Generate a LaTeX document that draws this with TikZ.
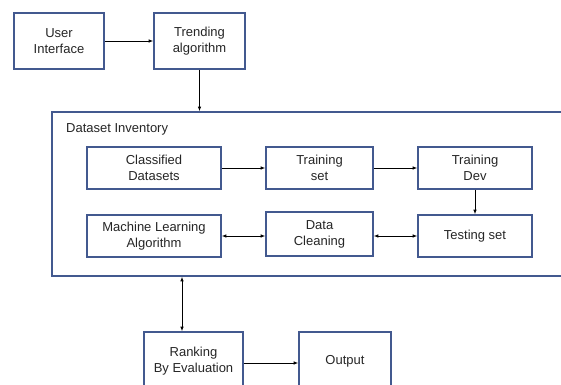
\documentclass[tikz,border=0pt]{standalone}
\usepackage{fontspec}
\setmainfont{Liberation Sans}
\usetikzlibrary{arrows.meta,positioning}
\definecolor{boxblue}{HTML}{43598F}
\begin{document}
\begin{tikzpicture}[x=1pt,y=-1pt,
  box/.style={draw=boxblue,line width=1.6pt,fill=white,align=center,
    inner sep=0pt,font=\fontsize{13}{16}\selectfont,text=black!85},
  arr/.style={draw=black,line width=0.8pt,-{Latex[length=4.5pt,width=3.5pt]}},
  darr/.style={draw=black,line width=0.8pt,{Latex[length=4.5pt,width=3.5pt]}-{Latex[length=4.5pt,width=3.5pt]}}]
\clip (0,0) rectangle (561,384);
\fill[white] (0,0) rectangle (561,384);
% top row
\node[box,minimum width=90pt,minimum height=56pt] (ui) at (59,41) {User\\Interface};
\node[box,minimum width=91pt,minimum height=56pt] (ta) at (199.5,41) {Trending\\algorithm};
% dataset inventory container
\node[box,minimum width=518pt,minimum height=164pt] (inv) at (311,194) {};
\node[anchor=west,font=\fontsize{13}{16}\selectfont,text=black!85,inner sep=0pt] (invlbl) at (66,129) {Dataset Inventory};
% inner boxes
\node[box,minimum width=134pt,minimum height=42pt] (cd) at (154,168) {Classified\\Datasets};
\node[box,minimum width=107pt,minimum height=42pt] (ts) at (319.5,168) {Training\\set};
\node[box,minimum width=114pt,minimum height=42pt] (td) at (475,168) {Training\\Dev};
\node[box,minimum width=134pt,minimum height=42pt] (ml) at (154,236) {Machine Learning\\Algorithm};
\node[box,minimum width=107pt,minimum height=44pt] (dc) at (319.5,234) {Data\\Cleaning};
\node[box,minimum width=114pt,minimum height=42pt] (tes) at (475,236) {Testing set};
% bottom row
\node[box,minimum width=99pt,minimum height=58pt] (rank) at (193.5,361) {Ranking\\By Evaluation};
\node[box,minimum width=92pt,minimum height=58pt] (out) at (345,361) {Output};
% connectors
\draw[arr] (ui.east) -- (ta.west);
\draw[arr] (ta.south) -- (ta.south |- inv.north);
\draw[arr] (cd.east) -- (ts.west);
\draw[arr] (ts.east) -- (td.west);
\draw[arr] (td.south) -- (tes.north);
\draw[darr] (ml.east) -- (ml.east -| dc.west);
\draw[darr] (dc.east |- tes.west) -- (tes.west);
\coordinate (rk) at ([xshift=-11.5pt]rank.north);
\draw[darr] (rk |- inv.south) -- (rk);
\draw[arr] ([yshift=-2pt]rank.east) -- ([yshift=-2pt]out.west);
\end{tikzpicture}
\end{document}
